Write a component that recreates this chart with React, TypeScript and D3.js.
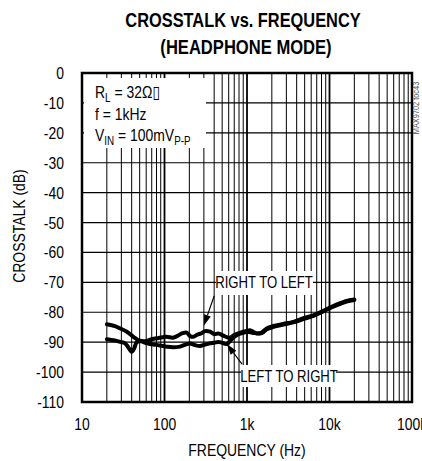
import React from "react";
import * as d3 from "d3";

const FREQ_R2L = [20, 25, 29, 35, 42, 50, 60, 70, 85, 106, 125, 141, 165, 186, 205, 223, 250, 280, 310, 356, 400, 449, 516, 567, 622, 700, 800, 902, 1000, 1087, 1200, 1311, 1507, 1733, 2086, 2756, 3642, 4812, 6362, 8410, 11120, 14000, 16150, 20000];
const XT_R2L = [-84.0, -84.6, -85.4, -86.5, -88.2, -89.5, -89.6, -89.0, -88.6, -88.2, -88.5, -88.0, -87.0, -86.8, -88.0, -88.2, -87.5, -87.0, -86.3, -86.5, -87.3, -87.1, -87.8, -88.3, -88.5, -87.6, -87.0, -86.5, -86.2, -86.0, -86.6, -87.1, -86.8, -85.4, -84.6, -83.9, -83.2, -82.0, -81.0, -79.5, -77.9, -76.8, -76.2, -75.7];

const FREQ_L2R = [20, 25, 29, 33, 36, 40, 43, 46, 52, 60, 67, 80, 95, 106, 125, 154, 180, 204, 235, 269, 310, 356, 400, 449, 500, 567, 622, 700, 800, 902, 1000, 1200, 1507, 1733, 2086, 2756, 3642, 4812, 6362, 8410, 11120, 14000, 16150, 20000];
const XT_L2R = [-89.0, -89.4, -89.9, -90.3, -91.5, -93.2, -92.0, -90.0, -89.7, -90.3, -90.6, -90.9, -91.3, -91.5, -91.7, -91.5, -90.8, -90.4, -91.0, -91.3, -90.8, -90.4, -90.2, -89.9, -90.2, -90.6, -89.6, -88.2, -87.3, -86.9, -86.5, -86.9, -87.0, -85.7, -84.9, -84.1, -83.4, -82.3, -81.2, -79.7, -78.1, -77.0, -76.4, -75.9];

const X_TICKS = [10, 100, 1000, 10000, 100000];
const X_TICK_LABELS = ["10", "100", "1k", "10k", "100k"];
const X_MINOR = [20, 30, 40, 50, 60, 70, 80, 90, 200, 300, 400, 500, 600, 700, 800, 900, 2000, 3000, 4000, 5000, 6000, 7000, 8000, 9000, 20000, 30000, 40000, 50000, 60000, 70000, 80000, 90000];
const Y_TICKS = [0, -10, -20, -30, -40, -50, -60, -70, -80, -90, -100, -110];

const FONT = "'Liberation Sans Narrow', 'Arial Narrow', 'Liberation Sans', Arial, sans-serif";

type TP = {
  x: number;
  y: number;
  size: number;
  anchor?: "start" | "middle" | "end";
  weight?: string;
  sx?: number;
  rot?: number;
  fill?: string;
  children?: React.ReactNode;
};

function T({ x, y, size, anchor = "start", weight = "normal", sx = 0.82, rot = 0, fill = "#000", children }: TP) {
  return (
    <text
      transform={`translate(${x},${y})${rot ? ` rotate(${rot})` : ""} scale(${sx},1)`}
      textAnchor={anchor}
      fontSize={size}
      fontWeight={weight}
      fill={fill}
    >
      {children}
    </text>
  );
}

export default function App() {
  const left = 82, right = 412, top = 73, bottom = 402;
  const x = d3.scaleLog().domain([10, 100000]).range([left, right]);
  const y = d3.scaleLinear().domain([0, -110]).range([top, bottom]);

  const line = d3
    .line<[number, number]>()
    .x((d) => x(d[0]))
    .y((d) => y(d[1]))
    .curve(d3.curveCatmullRom.alpha(0.5));

  const r2l: [number, number][] = FREQ_R2L.map((f, i) => [f, XT_R2L[i]]);
  const l2r: [number, number][] = FREQ_L2R.map((f, i) => [f, XT_L2R[i]]);

  const arrow = (tx: number, ty: number, sx: number, sy: number) => {
    const ang = Math.atan2(ty - sy, tx - sx);
    const len = 11, w = 3.5;
    const bx = tx - len * Math.cos(ang), by = ty - len * Math.sin(ang);
    const px = -Math.sin(ang) * w, py = Math.cos(ang) * w;
    return (
      <g>
        <line x1={sx} y1={sy} x2={bx} y2={by} stroke="#000" strokeWidth={1.2} />
        <path d={`M${tx},${ty}L${bx + px},${by + py}L${bx - px},${by - py}Z`} fill="#000" />
      </g>
    );
  };

  return (
    <svg width={422} height={461} style={{ position: "absolute", left: 0, top: 0, background: "#fff" }} fontFamily={FONT}>
      <rect x={0} y={0} width={422} height={461} fill="#fff" />
      <T x={243} y={27} size={21} weight="bold" anchor="middle" sx={0.78}>CROSSTALK vs. FREQUENCY</T>
      <T x={246} y={54} size={21} weight="bold" anchor="middle" sx={0.79}>(HEADPHONE MODE)</T>

      {/* grid */}
      {X_MINOR.map((f) => (
        <line key={"m" + f} x1={x(f)} x2={x(f)} y1={top} y2={bottom} stroke="#000" strokeWidth={1} />
      ))}
      {X_TICKS.map((f) => (
        <line key={"M" + f} x1={x(f)} x2={x(f)} y1={top} y2={bottom} stroke="#000" strokeWidth={1.8} />
      ))}
      {Y_TICKS.map((v) => (
        <line key={"h" + v} x1={left} x2={right} y1={y(v)} y2={y(v)} stroke="#000" strokeWidth={1.2} />
      ))}

      {/* annotation box */}
      <rect x={84} y={78} width={122} height={70} fill="#fff" />
      <T x={95} y={98} size={17}>
        R<tspan fontSize={12} dy={4}>L</tspan>
        <tspan dy={-4}> = 32Ω</tspan>
        <tspan fontFamily="DejaVu Sans" fontSize={17}>{"\u25AF"}</tspan>
      </T>
      <T x={95} y={120} size={17}>f = 1kHz</T>
      <T x={95} y={141} size={17}>
        V<tspan fontSize={12} dy={4}>IN</tspan>
        <tspan dy={-4}> = 100mV</tspan>
        <tspan fontSize={12} dy={4}>P-P</tspan>
      </T>

      {/* curves */}
      <path d={line(l2r) || ""} fill="none" stroke="#000" strokeWidth={4} strokeLinejoin="round" strokeLinecap="round" />
      <path d={line(r2l) || ""} fill="none" stroke="#000" strokeWidth={4} strokeLinejoin="round" strokeLinecap="round" />

      {/* curve labels */}
      <rect x={216} y={271} width={97} height={24} fill="#fff" />
      <T x={264} y={288} size={16} anchor="middle">RIGHT TO LEFT</T>
      {arrow(x(300), y(-84.5), x(400), y(-74.5))}
      <rect x={241} y={365} width={95} height={22} fill="#fff" />
      <T x={289} y={382} size={16} anchor="middle">LEFT TO RIGHT</T>
      {arrow(x(570), y(-90.6), x(870), y(-97.3))}

      {/* frame */}
      <rect x={left} y={top} width={right - left} height={bottom - top} fill="none" stroke="#000" strokeWidth={2.5} />

      {/* axes labels */}
      {Y_TICKS.map((v) => (
        <T key={"yl" + v} x={64} y={y(v) + 6} size={17} anchor="end">{String(v)}</T>
      ))}
      {X_TICKS.map((f, i) => (
        <T key={"xl" + f} x={x(f)} y={430} size={17} anchor="middle">{X_TICK_LABELS[i]}</T>
      ))}
      <T x={247} y={456} size={17} anchor="middle">FREQUENCY (Hz)</T>
      <T x={25} y={226} size={17} anchor="middle" rot={-90}>CROSSTALK (dB)</T>
      <T x={419} y={108} size={9} anchor="middle" rot={-90} fill="#555">MAX9702 toc43</T>
    </svg>
  );
}
